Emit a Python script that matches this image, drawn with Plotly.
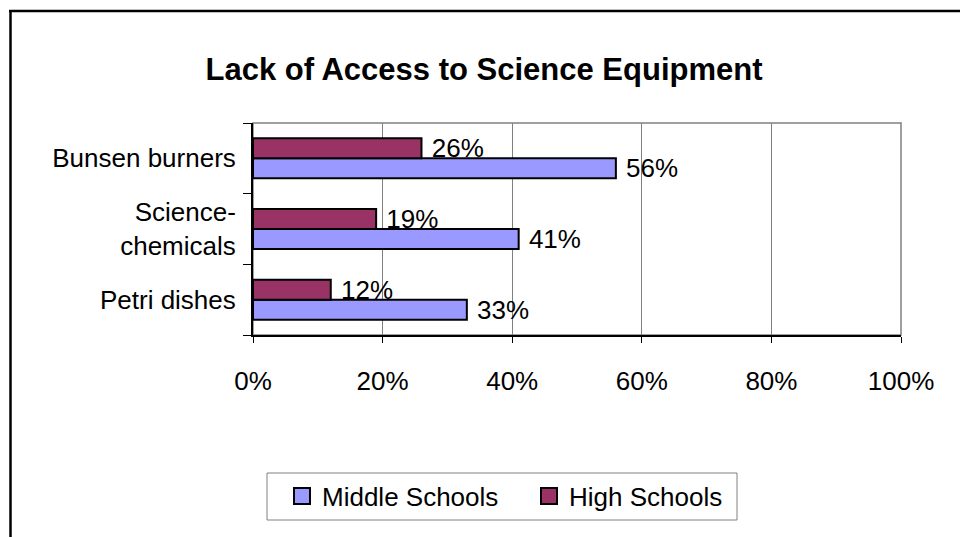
import plotly.graph_objects as go

categories = ["Petri dishes", "Science-<br>chemicals", "Bunsen burners"]
middle_schools = [0.33, 0.41, 0.56]
high_schools = [0.12, 0.19, 0.26]
x_ticks = [0, 0.2, 0.4, 0.6, 0.8, 1.0]
x_ticklabels = ["0%", "20%", "40%", "60%", "80%", "100%"]
series_names = ["Middle Schools", "High Schools"]
series_colors = ["#9999FF", "#993366"]

FONT = "Liberation Sans, Arial, sans-serif"
Wfig, Hfig = 960, 537
L, R, T, B = 253, 901, 123, 335
PW, PH = R - L, B - T

def px(x):
    return (x - L) / PW

def py(y):
    return (B - y) / PH

fig = go.Figure()
for vals, name, col in zip([middle_schools, high_schools], series_names, series_colors):
    fig.add_trace(go.Bar(
        y=categories, x=vals, orientation="h", name=name, showlegend=False,
        marker=dict(color=col, line=dict(color="black", width=2)),
        texttemplate="\u00a0%{x:.0%}", textposition="outside", cliponaxis=False,
        constraintext="none", textfont=dict(size=26, color="black", family=FONT),
    ))
for name, col in zip(series_names, series_colors):
    fig.add_trace(go.Scatter(
        x=[None], y=[None], mode="markers", name=name, showlegend=True,
        marker=dict(symbol="square", size=16, color=col, line=dict(color="black", width=2)),
    ))

fig.update_layout(
    width=Wfig, height=Hfig,
    margin=dict(l=L, r=Wfig - R, t=T, b=Hfig - B, pad=0),
    paper_bgcolor="white", plot_bgcolor="white",
    font=dict(family=FONT, size=26, color="black"),
    barmode="group", bargap=0.434, bargroupgap=0,
    title=dict(text="<b>Lack of Access to Science Equipment</b>",
               font=dict(size=31, family=FONT, color="black"),
               x=484 / Wfig, xref="container", xanchor="center",
               y=1 - 69 / Hfig, yref="container", yanchor="middle"),
    xaxis=dict(range=[0, 1], tickvals=x_ticks, ticktext=x_ticklabels,
               showgrid=True, gridcolor="#808080", gridwidth=1,
               showline=True, linecolor="black", linewidth=2,
               ticks="outside", ticklen=6, tickcolor="black", tickwidth=1,
               ticklabelstandoff=16, zeroline=False,
               tickfont=dict(size=26, family=FONT, color="black"), fixedrange=True),
    yaxis=dict(type="category", categoryorder="array", categoryarray=categories,
               showline=True, linecolor="black", linewidth=2,
               ticks="outside", ticklen=8, tickcolor="black", tickwidth=1,
               tickson="boundaries", showgrid=False, ticklabelstandoff=10,
               tickfont=dict(size=26, family=FONT, color="black"), fixedrange=True),
    showlegend=True,
    legend=dict(orientation="h", x=px(282), xanchor="left",
                y=py(496), yanchor="middle", borderwidth=0,
                bgcolor="rgba(0,0,0,0)",
                font=dict(size=26, family=FONT, color="black"),
                traceorder="normal", itemsizing="trace",
                entrywidth=202, entrywidthmode="pixels"),
)

fig.add_shape(type="rect", xref="paper", yref="paper", x0=0, x1=1, y0=0, y1=1,
              line=dict(color="#808080", width=1.5), layer="below")
fig.add_shape(type="rect", xref="paper", yref="paper", x0=px(267), x1=px(737),
              y0=py(473), y1=py(520), line=dict(color="#808080", width=1),
              fillcolor="white", layer="below")
fig.add_shape(type="line", xref="paper", yref="paper", x0=px(10.5), x1=px(10.5),
              y0=py(10), y1=py(545), line=dict(color="black", width=2.5))
fig.add_shape(type="line", xref="paper", yref="paper", x0=px(9), x1=px(970),
              y0=py(11), y1=py(11), line=dict(color="black", width=2.5))

fig.write_html("out.html")
